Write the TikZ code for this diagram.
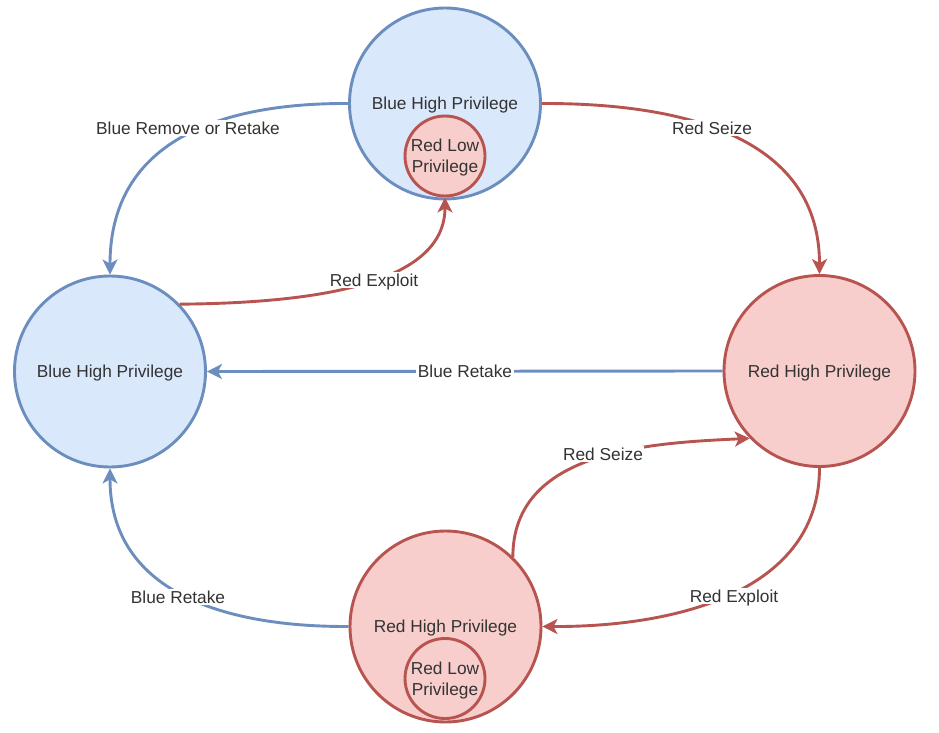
\documentclass[tikz,border=0pt]{standalone}
\usepackage{fontspec}
\setmainfont{Liberation Sans}
\usetikzlibrary{arrows.meta}
\definecolor{bstroke}{HTML}{6C8EBF}
\definecolor{bfill}{HTML}{DAE8FC}
\definecolor{rstroke}{HTML}{B85450}
\definecolor{rfill}{HTML}{F8CECC}
\definecolor{txt}{HTML}{333333}
\tikzset{
  statebase/.style={circle, line width=2.9pt, inner sep=0pt, text=txt, align=center, text depth=0pt},
  bluestate/.style={statebase, draw=bstroke, fill=bfill, minimum size=191pt},
  redstate/.style={statebase, draw=rstroke, fill=rfill, minimum size=191pt},
  redsmall/.style={statebase, draw=rstroke, fill=rfill, minimum size=80pt},
  plaintext/.style={text=txt, text depth=0pt},
  tip/.style={-{Stealth[length=15pt, width=15pt, inset=4pt]}},
  blueedge/.style={draw=bstroke, line width=2.9pt, tip},
  rededge/.style={draw=rstroke, line width=2.9pt, tip},
  lbl/.style={fill=white, text=txt, inner sep=1.5pt, text depth=0pt}
}
\begin{document}
\begin{tikzpicture}[x=1pt, y=-1pt, font=\fontsize{17.3}{21}\selectfont]
\useasboundingbox (0,0) rectangle (939,733);
\fill[white] (0,0) rectangle (939,733);
% states
\node[bluestate] (top) at (445,103.5) {};
\node[plaintext] (toptext) at (445,103.5) {Blue High Privilege};
\node[redsmall] (topin) at (445,156) {Red Low\\Privilege};
\node[bluestate] (left) at (110,371.5) {Blue High Privilege};
\node[redstate] (right) at (819.5,371) {Red High Privilege};
\node[redstate] (bot) at (445.5,626.5) {};
\node[plaintext] (bottext) at (445.5,626.5) {Red High Privilege};
\node[redsmall] (botin) at (445,678.5) {Red Low\\Privilege};
% edges
\draw[blueedge] (top.west) .. controls (240,103) and (110,130) .. (left.north)
  node[lbl] (l1) at (188,128) {Blue Remove or Retake};
\draw[rededge] (top.east) .. controls (690,103) and (819.5,140) .. (right.north)
  node[lbl] (l2) at (712,128) {Red Seize};
\draw[rededge] (left.44) .. controls (330,303) and (445,280) .. (topin.south)
  node[lbl] (l3) at (374,280) {Red Exploit};
\draw[blueedge] (right.west) -- (left.east)
  node[lbl] (l4) at (465,371) {Blue Retake};
\draw[rededge] (right.south) .. controls (819.5,590) and (680,627) .. (bot.east)
  node[lbl] (l5) at (734,596) {Red Exploit};
\draw[rededge] (bot.46) .. controls (513,450) and (650,443) .. (right.224)
  node[lbl] (l6) at (603,454) {Red Seize};
\draw[blueedge] (bot.west) .. controls (220,627) and (110,590) .. (left.south)
  node[lbl] (l7) at (178,597) {Blue Retake};
\end{tikzpicture}
\end{document}
